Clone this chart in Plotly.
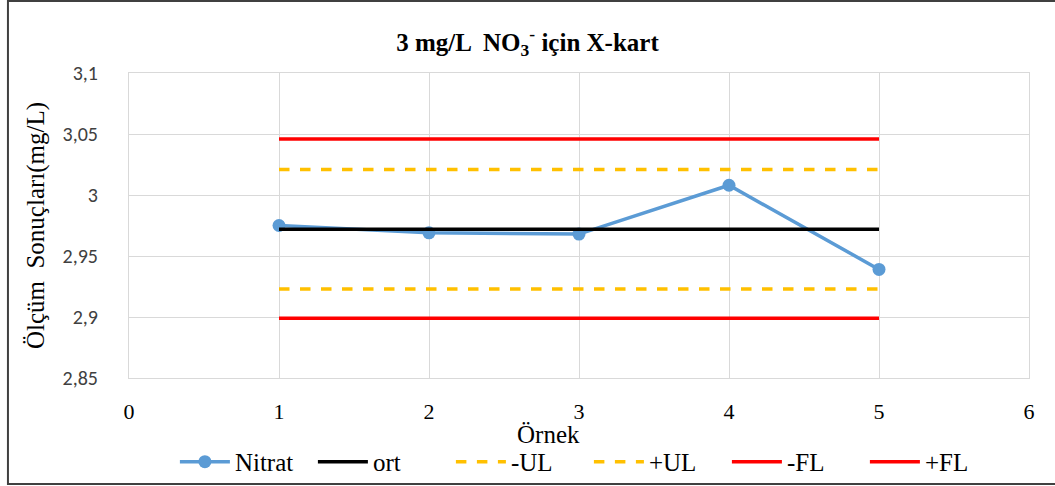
import plotly.graph_objects as go

# Sample numbers and measured nitrate concentrations (mg/L)
ornek = [1, 2, 3, 4, 5]
nitrat = [2.975, 2.969, 2.968, 3.008, 2.939]

# Control chart reference levels
ort = [2.972] * 5
alt_ul = [2.923] * 5
ust_ul = [3.021] * 5
alt_fl = [2.899] * 5
ust_fl = [3.046] * 5

y_tickvals = [2.85, 2.9, 2.95, 3.0, 3.05, 3.1]
y_ticktext = ["2,85", "2,9", "2,95", "3", "3,05", "3,1"]
x_tickvals = [0, 1, 2, 3, 4, 5, 6]

serif = "Liberation Serif"
sans = "Carlito, Lato, Calibri, sans-serif"

fig = go.Figure()
fig.add_trace(go.Scatter(x=ornek, y=nitrat, name="Nitrat", mode="lines+markers",
                         line=dict(color="#5B9BD5", width=3.5),
                         marker=dict(size=13, color="#5B9BD5")))
fig.add_trace(go.Scatter(x=ornek, y=ort, name="ort", mode="lines",
                         line=dict(color="#000000", width=3.5)))
fig.add_trace(go.Scatter(x=ornek, y=alt_ul, name="-UL", mode="lines",
                         line=dict(color="#FFC000", width=3.5, dash="dash")))
fig.add_trace(go.Scatter(x=ornek, y=ust_ul, name="+UL", mode="lines",
                         line=dict(color="#FFC000", width=3.5, dash="dash")))
fig.add_trace(go.Scatter(x=ornek, y=alt_fl, name="-FL", mode="lines",
                         line=dict(color="#FF0000", width=3.5)))
fig.add_trace(go.Scatter(x=ornek, y=ust_fl, name="+FL", mode="lines",
                         line=dict(color="#FF0000", width=3.5)))

fig.update_layout(
    width=1055, height=486,
    margin=dict(l=129, r=26, t=73, b=108, autoexpand=False),
    paper_bgcolor="white", plot_bgcolor="white",
    title=dict(text="<b>3 mg/L  NO<sub>3</sub><sup>-</sup> için X-kart</b>",
               x=0.5, xref="container", xanchor="center",
               y=0.914, yref="container", yanchor="middle",
               font=dict(family=serif, size=25, color="black")),
    xaxis=dict(range=[0, 6], tickvals=x_tickvals, showgrid=True,
               gridcolor="#d9d9d9", gridwidth=1, zeroline=False,
               showline=True, linecolor="#d9d9d9", linewidth=1, mirror=True,
               ticks="", ticklabelstandoff=14,
               tickfont=dict(family=serif, size=22, color="black")),
    yaxis=dict(range=[2.85, 3.1], tickvals=y_tickvals, ticktext=y_ticktext,
               showgrid=True, gridcolor="#d9d9d9", gridwidth=1, zeroline=False,
               showline=True, linecolor="#d9d9d9", linewidth=1, mirror=True,
               ticks="", ticklabelstandoff=26,
               tickfont=dict(family=sans, size=20, color="#404040"),
               title=dict(text="Ölçüm  Sonuçları(mg/L)", standoff=10,
                          font=dict(family=serif, size=25, color="black"))),
    legend=dict(orientation="h", x=0.511, xanchor="center", y=-0.275,
                yanchor="middle", font=dict(family=serif, size=25, color="black"),
                bgcolor="rgba(0,0,0,0)",
                itemwidth=50, entrywidth=73, entrywidthmode="pixels",
                tracegroupgap=0),
    showlegend=True,
)

# x-axis title, placed slightly left of the plot centre
fig.add_annotation(text="Örnek", xref="paper", yref="paper",
                   x=0.466, y=-0.185, xanchor="center", yanchor="middle",
                   showarrow=False,
                   font=dict(family=serif, size=25, color="black"))

# Outer frame around the whole chart
fig.add_shape(type="rect", xref="paper", yref="paper",
              x0=-0.1345, x1=1.031, y0=-0.3475, y1=1.236,
              line=dict(color="#404040", width=2), fillcolor="rgba(0,0,0,0)",
              layer="above")

fig.write_html("out.html")
